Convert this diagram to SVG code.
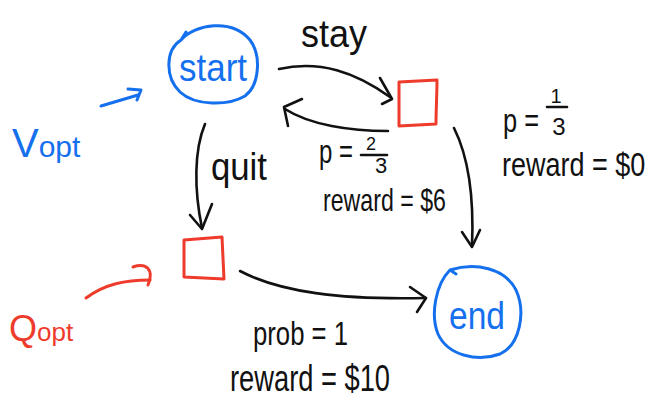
<svg xmlns="http://www.w3.org/2000/svg" width="654" height="398" viewBox="0 0 654 398">
<style>
  .blue{stroke:#1570ee;fill:none;stroke-width:3;stroke-linecap:round;stroke-linejoin:round}
  .red{stroke:#ee3b2c;fill:none;stroke-width:3;stroke-linecap:round;stroke-linejoin:round}
  .ink{stroke:#111;fill:none;stroke-width:2.6;stroke-linecap:round;stroke-linejoin:round}
  text{font-family:"Liberation Sans",Arial,sans-serif}
  .tk{fill:#111}
  .tb{fill:#1570ee}
  .tr{fill:#ee3b2c}
</style>
<rect width="654" height="398" fill="#fff"/>

<g id="start">
  <path class="blue" d="M181,40 C195,24 232,18 250,40 C262,56 259,86 245,96 C228,106 195,106 180,92 C165,78 165,50 181,40 Z M181,40 L186,32"/>
  <text class="tb" x="179" y="81" font-size="38" textLength="68" lengthAdjust="spacingAndGlyphs">start</text>
</g>
<g id="stay-state">
  <path class="red" d="M399,82 L437,80 C437,94 436,110 436,124 L399,126 Z"/>
</g>
<g id="quit-state">
  <path class="red" d="M184,240 L222,237 L224,279 L184,277 Z"/>
</g>
<g id="end">
  <path class="blue" d="M450,270 C475,262 505,268 516,290 C526,312 520,345 500,354 C478,362 448,356 438,334 C430,314 436,284 450,270 Z M450,270 L456,274"/>
  <text class="tb" x="449" y="329" font-size="38" textLength="56" lengthAdjust="spacingAndGlyphs">end</text>
</g>

<g id="connectors">
  <path class="ink" d="M279,69 C320,60 355,72 390,97"/>
  <path class="ink" d="M380,78 L392,99 L382,104"/>
  <path class="ink" d="M388,131 C350,131 310,125 285,109"/>
  <path class="ink" d="M302,99 L284,107 L288,126"/>
  <path class="ink" d="M205,124 C194,150 194,190 202,228"/>
  <path class="ink" d="M190,215 L202,229 L212,204"/>
  <path class="ink" d="M454,128 C470,160 474,200 472,246"/>
  <path class="ink" d="M462,232 L472,247 L480,230"/>
  <path class="ink" d="M240,271 C280,292 340,300 426,298"/>
  <path class="ink" d="M410,287 L426,298 L417,312"/>
  <path class="blue" d="M101,106 L138,95"/>
  <path class="blue" d="M128,89 L141,90 L137,100"/>
  <path class="red" d="M86,298 C105,284 125,280 150,280"/>
  <path class="red" d="M133,267 C145,263 155,268 148,285"/>
</g>

<g id="labels">
  <text class="tb" x="12" y="157" font-size="40">V<tspan font-size="30">opt</tspan></text>
  <text class="tr" x="9" y="341" font-size="36">Q<tspan font-size="26">opt</tspan></text>
  <text class="tk" x="301" y="47" font-size="38" textLength="66" lengthAdjust="spacingAndGlyphs">stay</text>
  <text class="tk" x="211" y="180" font-size="38" textLength="56" lengthAdjust="spacingAndGlyphs">quit</text>

  <text class="tk" x="319" y="163" font-size="34" textLength="34" lengthAdjust="spacingAndGlyphs">p =</text>
  <text class="tk" x="371" y="150" font-size="18" text-anchor="middle">2</text>
  <line class="ink" x1="361" y1="155" x2="387" y2="155"/>
  <text class="tk" x="381" y="173" font-size="22" text-anchor="middle">3</text>
  <text class="tk" x="323" y="211" font-size="32" textLength="123" lengthAdjust="spacingAndGlyphs">reward = $6</text>

  <text class="tk" x="503" y="132" font-size="34" textLength="36" lengthAdjust="spacingAndGlyphs">p =</text>
  <text class="tk" x="556" y="103" font-size="20" text-anchor="middle">1</text>
  <line class="ink" x1="547" y1="107" x2="567" y2="107"/>
  <text class="tk" x="559" y="135" font-size="24" text-anchor="middle">3</text>
  <text class="tk" transform="translate(502,176) scale(1,1.25)" x="0" y="0" font-size="27">reward = $0</text>

  <text class="tk" x="253" y="345" font-size="34" textLength="95" lengthAdjust="spacingAndGlyphs">prob = 1</text>
  <text class="tk" x="230" y="391" font-size="36" textLength="160" lengthAdjust="spacingAndGlyphs">reward = $10</text>
</g>
</svg>
